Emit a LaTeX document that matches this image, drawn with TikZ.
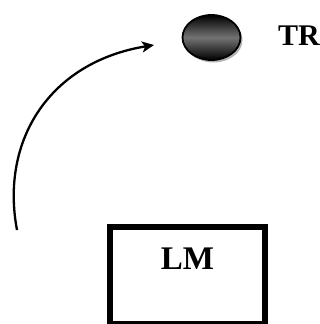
\documentclass[tikz,border=0pt]{standalone}
\usepackage{fontspec}
\setmainfont{Liberation Serif}
\usetikzlibrary{arrows.meta,shadows,shapes.geometric,positioning}
\tikzset{
  bola/.style={ellipse, draw=black, line width=1.8pt, minimum width=58pt, minimum height=45pt,
    top color=black, bottom color=black, middle color=black!55,
    drop shadow={shadow xshift=2pt, shadow yshift=-2.5pt, fill=gray!60, opacity=1}},
  caja/.style={rectangle, draw=black, line width=6pt, minimum width=155pt, minimum height=97pt},
  etiqueta/.style={font=\bfseries\fontsize{30}{32}\selectfont}
}
\begin{document}
\begin{tikzpicture}[x=1pt, y=-1pt]
\useasboundingbox (0,0) rectangle (320,324);
% Bola TR arriba
\node[bola] (tr) at (211.5,37.5) {};
\node[etiqueta, anchor=west, inner sep=0pt] (trtxt) at (278,36) {TR};
% Caja LM abajo
\node[caja] (lm) at (187.5,275.5) {};
\node[etiqueta, font=\bfseries\fontsize{33}{36}\selectfont, inner sep=0pt, below=24pt of lm.north] (lmtxt) {LM};
% Flecha curva
\coordinate (ini) at (17,230);
\coordinate (fin) at (154,45);
\draw[line width=2.3pt, -{Stealth[length=12pt,width=11pt,inset=3pt]}] (ini) .. controls (0,140) and (50,62) .. (fin);
\end{tikzpicture}
\end{document}
